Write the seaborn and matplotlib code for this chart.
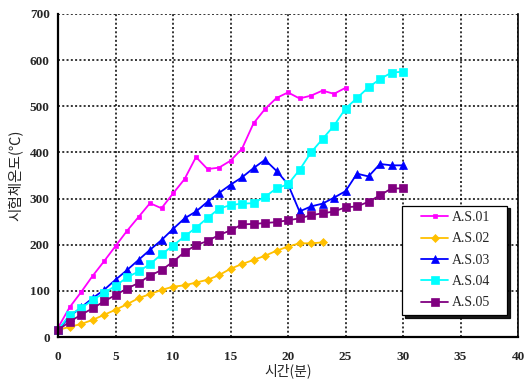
import matplotlib
matplotlib.use("Agg")
import matplotlib.pyplot as plt
from matplotlib.legend_handler import HandlerLine2D
import seaborn as sns
import pandas as pd

# ---- data ----
minutes_01 = list(range(0, 26))
as01 = [20, 64, 97, 132, 164, 197, 230, 260, 290, 279, 311, 342, 390, 364, 367,
        382, 408, 463, 494, 518, 530, 517, 523, 534, 527, 540]
minutes_02 = list(range(0, 24))
as02 = [15, 22, 28, 37, 48, 59, 71, 84, 93, 102, 109, 112, 118, 124, 134, 148,
        158, 167, 176, 187, 196, 203, 203, 205]
minutes_30 = list(range(0, 31))
as03 = [15, 44, 64, 84, 102, 124, 145, 167, 189, 210, 234, 257, 272, 293, 312,
        330, 346, 366, 384, 360, 331, 272, 283, 289, 302, 316, 354, 348, 375, 372, 372]
as04 = [15, 48, 62, 80, 95, 111, 129, 142, 158, 179, 198, 218, 237, 258, 278,
        286, 289, 290, 304, 322, 331, 362, 400, 429, 458, 495, 518, 541, 559, 573, 575]
as05 = [15, 33, 48, 62, 77, 91, 105, 117, 133, 145, 163, 184, 199, 208, 221,
        231, 244, 245, 247, 249, 253, 257, 264, 268, 272, 281, 283, 293, 307, 322, 322]

series_names = ["A.S.01", "A.S.02", "A.S.03", "A.S.04", "A.S.05"]
series_x = [minutes_01, minutes_02, minutes_30, minutes_30, minutes_30]
series_y = [as01, as02, as03, as04, as05]

x_ticks = [0, 5, 10, 15, 20, 25, 30, 35, 40]
y_ticks = [0, 100, 200, 300, 400, 500, 600, 700]
x_label = "시간(분)"
y_label = "시험체온도(℃)"

# ---- styles ----
colors = ["#FF00FF", "#FFC000", "#0000FF", "#00FFFF", "#800080"]
markers = ["s", "D", "^", "s", "s"]
msizes = [3.4, 3.6, 6.3, 6.2, 6.2]

sns.set_style("white")
plt.rcParams["font.family"] = ["Liberation Serif", "DejaVu Sans"]

W, H = 524, 383
fig = plt.figure(figsize=(W / 100, H / 100), dpi=100)
x0, x1, ytop, ybot = 58, 518, 14, 337
ax = fig.add_axes([x0 / W, 1 - ybot / H, (x1 - x0) / W, (ybot - ytop) / H])

for name, xs, ys, c, m, ms in zip(series_names, series_x, series_y, colors, markers, msizes):
    df = pd.DataFrame({"t": xs, "temp": ys})
    sns.lineplot(data=df, x="t", y="temp", ax=ax, color=c, marker=m,
                 markersize=ms, markeredgecolor=c, markerfacecolor=c,
                 markeredgewidth=0.5, linewidth=1.3, label=name, clip_on=False)

ax.set_xlim(0, 40)
ax.set_ylim(0, 700)
ax.set_xticks(x_ticks)
ax.set_yticks(y_ticks)
ax.tick_params(axis="both", length=0, labelsize=9.5)
ax.tick_params(axis="x", pad=10)
ax.tick_params(axis="y", pad=6)
for lab in ax.get_xticklabels() + ax.get_yticklabels():
    lab.set_fontfamily("Liberation Serif")
    lab.set_fontweight("bold")

ax.grid(True, color="black", linestyle=(0, (1.3, 1.5)), linewidth=1.1)
ax.set_axisbelow(True)

for side in ["left", "bottom"]:
    ax.spines[side].set_linewidth(1.6)
    ax.spines[side].set_color("black")
ax.spines["right"].set_linewidth(1.2)
ax.spines["right"].set_color("black")
ax.spines["top"].set_visible(False)

ax.set_xlabel(x_label, fontsize=10, family=["Noto Sans CJK KR", "DejaVu Sans"], labelpad=0)
ax.set_ylabel(y_label, fontsize=10.5, family=["Noto Sans CJK KR", "DejaVu Sans"], labelpad=5)

handles, labels = ax.get_legend_handles_labels()
lx0 = (402 - x0) / (x1 - x0)
lx1 = (507 - x0) / (x1 - x0)
ly0 = (ybot - 315) / (ybot - ytop)
hmap = {h: HandlerLine2D(xpad=1.0) for h in handles}
leg = ax.legend(handles, labels, loc="lower left",
                bbox_to_anchor=(lx0, ly0, lx1 - lx0, 0.3), mode="expand",
                borderaxespad=0, fancybox=False, framealpha=1, edgecolor="black",
                shadow={"color": "black", "alpha": 0.9},
                prop={"family": "Liberation Serif", "size": 10},
                handlelength=2.9, handletextpad=0.3, labelspacing=0.6,
                borderpad=0.4, handler_map=hmap)
leg.get_frame().set_linewidth(0.9)

fig.savefig("out.png", dpi=100, facecolor="white")
